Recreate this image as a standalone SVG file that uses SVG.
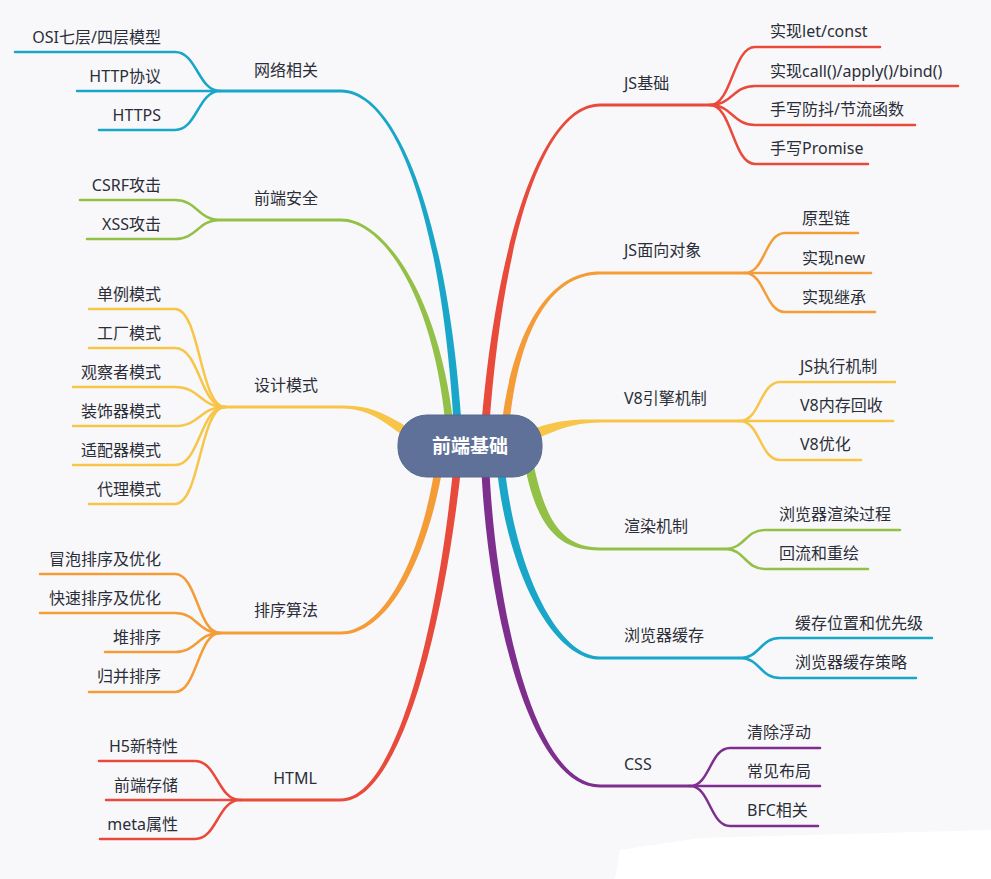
<svg xmlns="http://www.w3.org/2000/svg" width="991" height="879" viewBox="0 0 991 879">
<style>
.t{font-family:"Noto Sans","Noto Sans CJK SC",sans-serif;font-size:16px;fill:#2b2e38;dominant-baseline:central}
.e{text-anchor:end}
.m{text-anchor:middle}
.c{fill:none;stroke-width:2.5;stroke-linecap:round}
.h{fill:none;stroke-width:3}
.red{stroke:#e84a3b}.redf{fill:#e84a3b}
.ora{stroke:#f39c38}.oraf{fill:#f39c38}
.yel{stroke:#f7c548}.yelf{fill:#f7c548}
.gre{stroke:#93c047}.gref{fill:#93c047}
.cya{stroke:#1aa6c9}.cyaf{fill:#1aa6c9}
.pur{stroke:#7e2f8e}.purf{fill:#7e2f8e}
</style>
<rect width="991" height="879" fill="#f8f8fa"/>
<polygon points="620,850 700,838 991,830 991,879 615,879" fill="#ffffff"/>
<g id="connectors">
<path class="cyaf" d="M341,89.5 C395,89.2 448,214 462,430 L454,430 C442,216 395,92.8 341,92.5 Z"/>
<path class="gref" d="M341,218.5 C385,218.2 441,299 454,430 L446,430 C435,301 385,221.8 341,221.5 Z"/>
<path class="yelf" d="M341,405.5 C375,405 387,416 422,435 L418,445 C383,424 375,409 341,408.5 Z"/>
<path class="oraf" d="M341,634.5 C387,634.8 428,561 444,460 L436,460 C422,559 383,631.2 341,631.5 Z"/>
<path class="redf" d="M341,801.5 C397,801.8 443,641 462,460 L454,460 C437,639 393,798.2 341,798.5 Z"/>
<path class="redf" d="M600,103.5 C545,103.2 497,229 481,430 L489,430 C503,231 545,106.8 600,106.5 Z"/>
<path class="oraf" d="M600,271.5 C550,271.2 512,329 501,430 L509,430 C518,331 550,274.8 600,274.5 Z"/>
<path class="yelf" d="M600,419.5 C570,419 553,420 518,435 L522,445 C557,430 570,423 600,422.5 Z"/>
<path class="gref" d="M600,550.5 C556,550.8 536,524 524,462 L533,462 C545,518 560,547.2 600,547.5 Z"/>
<path class="cyaf" d="M600,659.5 C553,659.8 506,572 496,460 L504,460 C514,568 557,656.2 600,656.5 Z"/>
<path class="purf" d="M600,787.5 C528,787.8 486,602 481,460 L489,460 C494,598 532,784.2 600,784.5 Z"/>
<path class="h cya" d="M220,91 H341"/>
<path class="h gre" d="M220,220 H341"/>
<path class="h yel" d="M225,407 H341"/>
<path class="h ora" d="M220,633 H341"/>
<path class="h red" d="M240,800 H341"/>
<path class="h red" d="M600,105 H710"/>
<path class="h ora" d="M600,273 H745"/>
<path class="h yel" d="M600,421 H740"/>
<path class="h gre" d="M600,549 H725"/>
<path class="h cya" d="M600,658 H740"/>
<path class="h pur" d="M600,786 H690"/>
<path class="c cya" d="M15,52 H175 C197,52 198,91 220,91"/>
<path class="c cya" d="M77,91 H220"/>
<path class="c cya" d="M99,130 H175 C197,130 198,91 220,91"/>
<path class="c gre" d="M80,200 H175 C197,200 198,220 220,220"/>
<path class="c gre" d="M87,239 H175 C197,239 198,220 220,220"/>
<path class="c yel" d="M89,309 H175 C200,309 200,407 225,407"/>
<path class="c yel" d="M89,348 H175 C200,348 200,407 225,407"/>
<path class="c yel" d="M73,387 H175 C200,387 200,407 225,407"/>
<path class="c yel" d="M73,426 H175 C200,426 200,407 225,407"/>
<path class="c yel" d="M73,465 H175 C200,465 200,407 225,407"/>
<path class="c yel" d="M89,504 H175 C200,504 200,407 225,407"/>
<path class="c ora" d="M40,574 H175 C197,574 198,633 220,633"/>
<path class="c ora" d="M40,613 H175 C197,613 198,633 220,633"/>
<path class="c ora" d="M105,652 H175 C197,652 198,633 220,633"/>
<path class="c ora" d="M89,692 H175 C197,692 198,633 220,633"/>
<path class="c red" d="M99,761 H195 C217,761 218,800 240,800"/>
<path class="c red" d="M106,800 H240"/>
<path class="c red" d="M100,839 H195 C217,839 218,800 240,800"/>
<path class="c red" d="M710,105 C732,105 733,47 755,47 H880"/>
<path class="c red" d="M710,105 C732,105 733,86 755,86 H958"/>
<path class="c red" d="M710,105 C732,105 733,125 755,125 H915"/>
<path class="c red" d="M710,105 C732,105 733,164 755,164 H868"/>
<path class="c ora" d="M745,273 C765,273 765,233 785,233 H858"/>
<path class="c ora" d="M745,273 H871"/>
<path class="c ora" d="M745,273 C765,273 765,312 785,312 H875"/>
<path class="c yel" d="M740,421 C760,421 760,382 780,382 H895"/>
<path class="c yel" d="M740,421 H893"/>
<path class="c yel" d="M740,421 C760,421 760,460 780,460 H861"/>
<path class="c gre" d="M725,549 C745,549 745,530 765,530 H900"/>
<path class="c gre" d="M725,549 C745,549 745,569 765,569 H868"/>
<path class="c cya" d="M740,658 C760,658 760,638 780,638 H932"/>
<path class="c cya" d="M740,658 C760,658 760,678 780,678 H916"/>
<path class="c pur" d="M690,786 C710,786 710,748 730,748 H820"/>
<path class="c pur" d="M690,786 H820"/>
<path class="c pur" d="M690,786 C710,786 710,826 730,826 H818"/>
</g>
<g id="root">
<rect x="398" y="415" width="144" height="62" rx="29" fill="#5f7199" stroke="#56688f" stroke-width="1"/>
<text x="470" y="446" class="t m" style="font-size:19px;font-weight:bold;fill:#ffffff">前端基础</text>
</g>
<g id="n-network">
<text class="t m" x="286" y="70">网络相关</text>
<text class="t e" x="161" y="37">OSI七层/四层模型</text>
<text class="t e" x="161" y="76">HTTP协议</text>
<text class="t e" x="161" y="115">HTTPS</text>
</g>
<g id="n-security">
<text class="t m" x="286" y="198">前端安全</text>
<text class="t e" x="161" y="185">CSRF攻击</text>
<text class="t e" x="161" y="224">XSS攻击</text>
</g>
<g id="n-patterns">
<text class="t m" x="286" y="385">设计模式</text>
<text class="t e" x="161" y="294">单例模式</text>
<text class="t e" x="161" y="333">工厂模式</text>
<text class="t e" x="161" y="372">观察者模式</text>
<text class="t e" x="161" y="411">装饰器模式</text>
<text class="t e" x="161" y="450">适配器模式</text>
<text class="t e" x="161" y="489">代理模式</text>
</g>
<g id="n-sort">
<text class="t m" x="286" y="610">排序算法</text>
<text class="t e" x="161" y="559">冒泡排序及优化</text>
<text class="t e" x="161" y="598">快速排序及优化</text>
<text class="t e" x="161" y="637">堆排序</text>
<text class="t e" x="161" y="676">归并排序</text>
</g>
<g id="n-html">
<text class="t m" x="295" y="778">HTML</text>
<text class="t e" x="178" y="746">H5新特性</text>
<text class="t e" x="178" y="785">前端存储</text>
<text class="t e" x="178" y="824">meta属性</text>
</g>
<g id="n-js">
<text class="t" x="624" y="83">JS基础</text>
<text class="t" x="770" y="31">实现let/const</text>
<text class="t" x="770" y="71">实现call()/apply()/bind()</text>
<text class="t" x="770" y="109">手写防抖/节流函数</text>
<text class="t" x="770" y="148">手写Promise</text>
</g>
<g id="n-oop">
<text class="t" x="624" y="250">JS面向对象</text>
<text class="t" x="802" y="218">原型链</text>
<text class="t" x="802" y="258">实现new</text>
<text class="t" x="802" y="297">实现继承</text>
</g>
<g id="n-v8">
<text class="t" x="624" y="398">V8引擎机制</text>
<text class="t" x="800" y="366">JS执行机制</text>
<text class="t" x="800" y="405">V8内存回收</text>
<text class="t" x="800" y="444">V8优化</text>
</g>
<g id="n-render">
<text class="t" x="624" y="526">渲染机制</text>
<text class="t" x="779" y="514">浏览器渲染过程</text>
<text class="t" x="779" y="553">回流和重绘</text>
</g>
<g id="n-cache">
<text class="t" x="624" y="635">浏览器缓存</text>
<text class="t" x="795" y="623">缓存位置和优先级</text>
<text class="t" x="795" y="662">浏览器缓存策略</text>
</g>
<g id="n-css">
<text class="t" x="624" y="764">CSS</text>
<text class="t" x="747" y="732">清除浮动</text>
<text class="t" x="747" y="771">常见布局</text>
<text class="t" x="747" y="810">BFC相关</text>
</g>
</svg>
